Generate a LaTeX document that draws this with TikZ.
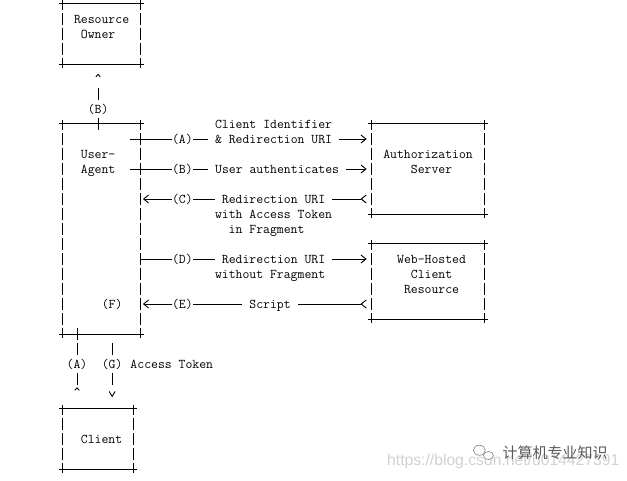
\documentclass[tikz,border=0pt]{standalone}
\usepackage{fontspec}
\newfontfamily\cjkfont{Noto Sans CJK SC}
\newfontfamily\urlfont{Liberation Sans}
\usetikzlibrary{arrows.meta}

\newcommand\asciifont{\fontsize{13.37pt}{15pt}\ttfamily\selectfont}

\tikzset{
  asciibox/.style={inner sep=0pt},
  hbar/.style={line width=0.9pt, shorten <=-3.5pt, shorten >=-3.5pt},
  vbar/.style={line width=0.9pt, dash pattern=on 12pt off 3pt, dash phase=2pt,
    shorten <=-4pt, shorten >=-4pt},
  txt/.style={font=\asciifont, inner sep=0pt, text height=11.6pt, text depth=3.4pt},
  lbl/.style={txt, fill=white},
  word/.style={lbl, inner xsep=7pt},
  hconn/.style={line width=0.9pt},
  vconn/.style={line width=0.9pt, dash pattern=on 12pt off 3pt},
  vtip/.style={line width=0.9pt, dash pattern=on 12pt off 3pt on 12pt off 3pt on 12pt off 20pt},
}

\begin{document}
\begin{tikzpicture}[x=7.02pt, y=-15pt, >={Straight Barb[length=5pt,width=8pt]}]
  \useasboundingbox (-3.974,-0.267) rectangle (85.342,31.733);

  % boxes
  \node[asciibox, minimum width=77.22pt, minimum height=60pt] (ro) at (10.5,2) {};
  \node[asciibox, minimum width=77.22pt, minimum height=210pt] (ua) at (10.5,15) {};
  \node[asciibox, minimum width=112.32pt, minimum height=90pt] (as) at (57,11) {};
  \node[asciibox, minimum width=112.32pt, minimum height=75pt] (wh) at (57,18.5) {};
  \node[asciibox, minimum width=70.2pt, minimum height=60pt] (cl) at (10,29) {};
  \foreach \bx in {ro,ua,as,wh,cl} {
    \draw[hbar] (\bx.north west) -- (\bx.north east);
    \draw[hbar] (\bx.south west) -- (\bx.south east);
    \draw[vbar] (\bx.north west) -- (\bx.south west);
    \draw[vbar] (\bx.north east) -- (\bx.south east);
  }

  % box texts
  \node[txt] (ro1) at (10.5,1) {Resource};
  \node[txt] (ro2) at (10,2) {Owner};
  \node[txt] (ua1) at (10,10) {User-};
  \node[txt] (ua2) at (10,11) {Agent};
  \node[txt] (uaf) at (12,20) {(F)};
  \node[txt] (as1) at (57,10) {Authorization};
  \node[txt] (as2) at (57.5,11) {Server};
  \node[txt] (wh1) at (57.5,17) {Web-Hosted};
  \node[txt] (wh2) at (57.5,18) {Client};
  \node[txt] (wh3) at (57.5,19) {Resource};
  \node[txt] (cl1) at (10.5,29) {Client};

  % columns of the vertical connectors
  \coordinate (ca) at (7,0);
  \coordinate (cb) at (10,0);
  \coordinate (cg) at (12,0);

  % connectors
  \draw[vtip, -{Straight Barb[length=2.5pt,width=4.5pt]}, shorten <=-6pt, shorten >=9.5pt]
    (ua.north -| cb) -- (ro.south -| cb);
  \draw[vconn, -{Straight Barb[reversed,length=2.5pt,width=4.5pt]}, shorten <=-6pt, shorten >=18pt]
    (ua.south -| ca) -- (cl.north -| ca);
  \draw[vtip, -{Straight Barb[length=5pt,width=6pt]}, shorten <=9pt, shorten >=11.5pt]
    (ua.south -| cg) -- (cl.north -| cg);
  \draw[hconn, ->, shorten <=-10.5pt, shorten >=5pt] (ua.east |- 0,9) -- (as.west |- 0,9);
  \draw[hconn, ->, shorten <=-10.5pt, shorten >=5pt] (ua.east |- 0,11) -- (as.west |- 0,11);
  \draw[hconn, >->, shorten <=5pt, shorten >=2.5pt] (as.west |- 0,13) -- (ua.east |- 0,13);
  \draw[hconn, ->, shorten >=5pt] (ua.east |- 0,17) -- (wh.west |- 0,17);
  \draw[hconn, >->, shorten <=5pt, shorten >=2.5pt] (wh.west |- 0,20) -- (ua.east |- 0,20);

  % labels
  \node[lbl] (lbo) at (10,7) {(B)};
  \node[lbl] (la) at (22,9) {(A)};
  \node[txt] (ta1) at (35,8) {Client Identifier};
  \node[word] (ta2) at (35,9) {\& Redirection URI};
  \node[lbl] (lb) at (22,11) {(B)};
  \node[word] (tb) at (35.5,11) {User authenticates};
  \node[lbl] (lc) at (22,13) {(C)};
  \node[word] (tc1) at (35,13) {Redirection URI};
  \node[txt] (tc2) at (35,14) {with Access Token};
  \node[txt] (tc3) at (34,15) {in Fragment};
  \node[lbl] (ld) at (22,17) {(D)};
  \node[word] (td1) at (35,17) {Redirection URI};
  \node[txt] (td2) at (34.5,18) {without Fragment};
  \node[lbl] (le) at (22,20) {(E)};
  \node[word] (te) at (34.5,20) {Script};
  \node[lbl] (lao) at (7,24) {(A)};
  \node[lbl] (lg) at (12,24) {(G)};
  \node[txt] (tg) at (20.5,24) {Access Token};

  % watermark
  \node[text=black!18, font=\urlfont\fontsize{15.7pt}{18pt}\selectfont, anchor=west, inner sep=0pt]
    (url) at (51.15,30.47) {https://blog.csdn.net/u014427391};
  \draw[black!45, line width=0.7pt] (64.3,29.75) ellipse [x radius=6pt, y radius=5pt];
  \draw[black!45, line width=0.7pt, fill=white] (65.6,30.1) ellipse [x radius=5pt, y radius=4pt];
  \node[text=black!65, font=\cjkfont\fontsize{15pt}{18pt}\selectfont, inner sep=0pt]
    (wm) at (75.09,29.95) {计算机专业知识};
\end{tikzpicture}
\end{document}
